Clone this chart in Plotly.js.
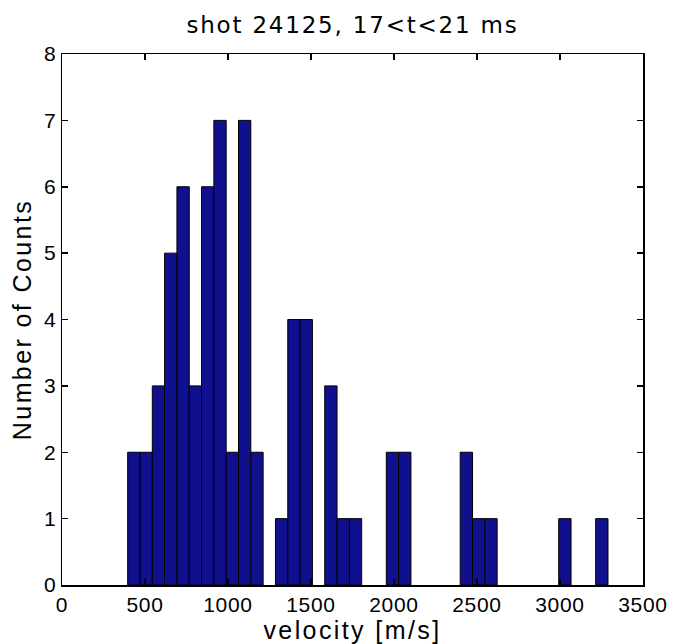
<!DOCTYPE html>
<html>
<head>
<meta charset="utf-8">
<script src="https://cdn.plot.ly/plotly-3.0.1.min.js"></script>
<style>
html,body{margin:0;padding:0;background:#fff;}
#chart{width:686px;height:644px;}
#chart .xtitle, #chart .ytitle{letter-spacing:2.4px;}
#chart .gtitle{letter-spacing:1.8px;}
#chart .xtick text, #chart .ytick text{letter-spacing:0.7px;}
</style>
</head>
<body>
<div id="chart"></div>
<script>
// Histogram bin centers (m/s) and counts
const binCenters = [432.7, 506.9, 581.1, 655.3, 729.5, 803.7, 877.8, 952.0, 1026.2, 1100.4, 1174.6,
                    1323.0, 1397.2, 1471.4, 1619.8, 1694.0, 1768.1, 1990.7, 2064.9,
                    2435.9, 2510.1, 2584.3, 3029.4, 3252.0];
const counts = [2, 2, 3, 5, 6, 3, 6, 7, 2, 7, 2,
                1, 4, 4, 3, 1, 1, 2, 2,
                2, 1, 1, 1, 1];
const binWidth = 74.19;
const xTicks = [0, 500, 1000, 1500, 2000, 2500, 3000, 3500];
const yTicks = [0, 1, 2, 3, 4, 5, 6, 7, 8];
const titleText = 'shot 24125, 17&lt;t&lt;21 ms';
const xLabel = 'velocity [m/s]';
const yLabel = 'Number of Counts';

const trace = {
  type: 'bar',
  x: binCenters,
  y: counts,
  width: binCenters.map(() => binWidth),
  marker: {color: '#10108f', line: {color: '#000000', width: 1}},
  hoverinfo: 'x+y'
};

const tickFont = {family: 'Liberation Sans, Arial, sans-serif', size: 21, color: '#000'};
const labelFont = {family: 'Liberation Sans, Arial, sans-serif', size: 25, color: '#000'};
const layout = {
  width: 686, height: 644,
  margin: {l: 62, r: 43, t: 54, b: 59},
  paper_bgcolor: '#fff', plot_bgcolor: '#fff',
  showlegend: false,
  title: {text: titleText, font: {family: 'DejaVu Sans, Verdana, sans-serif', size: 23, color: '#000'},
          xref: 'paper', x: 0.5, xanchor: 'center', yref: 'container', y: 1 - 25/644, yanchor: 'middle'},
  xaxis: {
    range: [0, 3500], tickvals: xTicks, ticktext: xTicks.map(String),
    ticks: 'inside', ticklen: 6, tickwidth: 1.5, tickcolor: '#000',
    showline: true, linecolor: '#000', linewidth: 1.5, mirror: 'ticks',
    showgrid: false, zeroline: false,
    tickfont: tickFont,
    title: {text: xLabel, font: labelFont, standoff: 0}
  },
  yaxis: {
    range: [0, 8], tickvals: yTicks, ticktext: yTicks.map(String),
    ticks: 'inside', ticklen: 6, tickwidth: 1.5, tickcolor: '#000',
    showline: true, linecolor: '#000', linewidth: 1.5, mirror: 'ticks',
    showgrid: false, zeroline: false,
    tickfont: tickFont,
    title: {text: yLabel, font: labelFont, standoff: 6}
  },
  bargap: 0
};

Plotly.newPlot('chart', [trace], layout, {displayModeBar: false, staticPlot: true});
</script>
</body>
</html>
